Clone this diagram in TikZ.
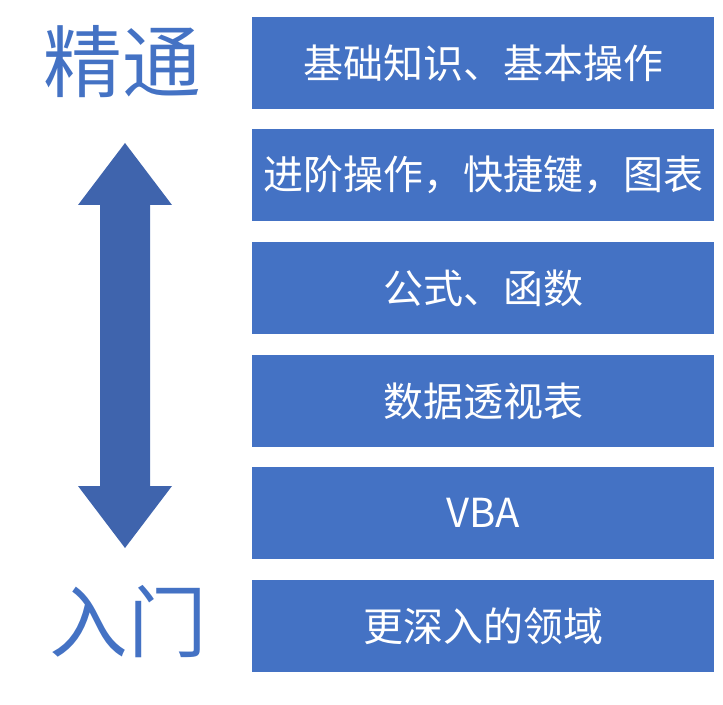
\documentclass[tikz,border=0pt]{standalone}
\usepackage{fontspec}
\setmainfont{Noto Sans CJK SC}
\definecolor{boxblue}{HTML}{4472C4}
\definecolor{arrblue}{HTML}{3F64AD}
\begin{document}
\begin{tikzpicture}[x=0.75pt,y=-0.75pt,
  lvl/.style={fill=boxblue,draw=none,minimum width=462*0.75pt,minimum height=92*0.75pt,inner sep=0pt,text=white,font=\fontsize{30}{36}\selectfont},
  big/.style={text=boxblue,font=\fontsize{59}{70}\selectfont,inner sep=0pt}]
\useasboundingbox (0,0) rectangle (723,705);
\node[lvl] (b1) at (483,63) {基础知识、基本操作};
\node[lvl] (b2) at (483,175) {进阶操作，快捷键，图表};
\node[lvl] (b3) at (483,288) {公式、函数};
\node[lvl] (b4) at (483,401) {数据透视表};
\node[lvl] (b5) at (483,513) {VBA};
\node[lvl] (b6) at (483,626) {更深入的领域};
\node[big] (top) at (122,62) {精通};
\node[big] (bot) at (128,622) {入门};
\fill[arrblue] (125,143) -- (172,205) -- (150,205) -- (150,486) -- (172,486) -- (125,548) -- (78,486) -- (100,486) -- (100,205) -- (78,205) -- cycle;
\end{tikzpicture}
\end{document}
